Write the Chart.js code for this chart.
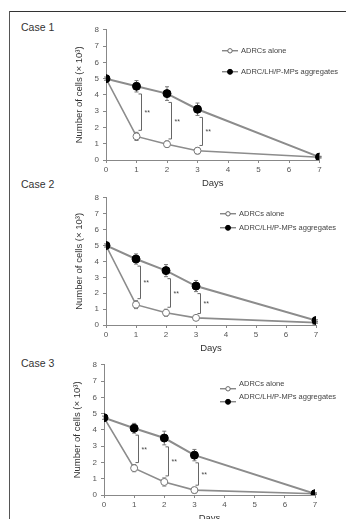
<!DOCTYPE html>
<html>
<head>
<meta charset="utf-8">
<script src="https://cdn.jsdelivr.net/npm/chart.js@4.4.1/dist/chart.umd.min.js"></script>
<style>
  html, body { margin:0; padding:0; background:#fff; width:346px; height:519px; overflow:hidden; }
  #frameTop { position:absolute; left:9px; top:11px; width:337px; height:1px; background:#333; }
  #frameLeft { position:absolute; left:9px; top:11px; width:1px; height:508px; background:#555; }
  .case { position:absolute; left:21px; font:10.5px "Liberation Sans", Arial, sans-serif; color:#333; }
  canvas { position:absolute; }
</style>
</head>
<body>
<div id="frameTop"></div>
<div id="frameLeft"></div>
<div class="case" style="top:21px">Case 1</div>
<div class="case" style="top:178px">Case 2</div>
<div class="case" style="top:357px">Case 3</div>
<canvas id="c1"></canvas>
<canvas id="c2"></canvas>
<canvas id="c3"></canvas>
<script>
// ---- data ----
const days = [0, 1, 2, 3, 7];
const yTicks = [0, 1, 2, 3, 4, 5, 6, 7, 8];
const xTicks = [0, 1, 2, 3, 4, 5, 6, 7];
const sigDays = [1, 2, 3];
const seriesNames = ["ADRCs alone", "ADRC/LH/P-MPs aggregates"];

const case1Alone    = [5.0, 1.45, 0.97, 0.57, 0.17];
const case1AloneErr = [0.0, 0.25, 0.20, 0.20, 0.04];
const case1Agg      = [5.0, 4.53, 4.08, 3.12, 0.18];
const case1AggErr   = [0.1, 0.35, 0.42, 0.38, 0.05];

const case2Alone    = [5.0, 1.28, 0.77, 0.45, 0.15];
const case2AloneErr = [0.0, 0.25, 0.22, 0.15, 0.04];
const case2Agg      = [5.0, 4.15, 3.42, 2.45, 0.28];
const case2AggErr   = [0.1, 0.32, 0.38, 0.35, 0.05];

const case3Alone    = [4.75, 1.65, 0.80, 0.30, 0.08];
const case3AloneErr = [0.0, 0.22, 0.25, 0.18, 0.04];
const case3Agg      = [4.75, 4.10, 3.50, 2.45, 0.08];
const case3AggErr   = [0.1, 0.30, 0.42, 0.35, 0.05];

// ---- layout per panel (pixel areas) ----
const panels = [
  { id:'c1', area:{l:106, r:319.5, t:29, b:160}, alone:case1Alone, aloneErr:case1AloneErr, agg:case1Agg, aggErr:case1AggErr,
    legend:{x:116, rows:[21, 42], textDy:0} },
  { id:'c2', area:{l:106, r:316, t:197, b:325}, alone:case2Alone, aloneErr:case2AloneErr, agg:case2Agg, aggErr:case2AggErr,
    legend:{x:114, rows:[16, 30], textDy:0} },
  { id:'c3', area:{l:104, r:315, t:364, b:495}, alone:case3Alone, aloneErr:case3AloneErr, agg:case3Agg, aggErr:case3AggErr,
    legend:{x:116, rows:[24, 37], textDy:-5} },
];

const FONT = '"Liberation Sans", Arial, sans-serif';
const YAXIS_W = 46, XAXIS_H = 32, PAD_T = 8;

const errorBarPlugin = {
  id: 'errorBars',
  beforeDatasetsDraw(chart, args, opts) {
    const ctx = chart.ctx, xs = chart.scales.x, ys = chart.scales.y;
    ctx.save();
    ctx.strokeStyle = '#777';
    ctx.lineWidth = 1;
    chart.data.datasets.forEach(ds => {
      ds.data.forEach((p, i) => {
        const e = ds.errors[i];
        if (!e) return;
        const x = xs.getPixelForValue(p.x);
        const y1 = ys.getPixelForValue(p.y + e), y2 = ys.getPixelForValue(p.y - e);
        ctx.beginPath();
        ctx.moveTo(x, y1); ctx.lineTo(x, y2);
        ctx.moveTo(x - 2, y1); ctx.lineTo(x + 2, y1);
        ctx.moveTo(x - 2, y2); ctx.lineTo(x + 2, y2);
        ctx.stroke();
      });
    });
    ctx.restore();
  }
};

const extrasPlugin = {
  id: 'extras',
  afterDraw(chart, args, opts) {
    const ctx = chart.ctx, xs = chart.scales.x, ys = chart.scales.y, ca = chart.chartArea;
    const agg = chart.data.datasets[0], alone = chart.data.datasets[1];
    ctx.save();
    // significance brackets
    ctx.strokeStyle = '#666';
    ctx.lineWidth = 1;
    ctx.fillStyle = '#444';
    ctx.font = '7px ' + FONT;
    ctx.textBaseline = 'middle';
    sigDays.forEach(d => {
      const i = days.indexOf(d);
      const x = Math.round(xs.getPixelForValue(d)) + 4.5;
      const yTop = ys.getPixelForValue(agg.data[i].y - agg.errors[i]) + 2;
      const yBot = ys.getPixelForValue(alone.data[i].y + alone.errors[i]) - 2;
      ctx.beginPath();
      ctx.moveTo(x - 3, yTop); ctx.lineTo(x, yTop); ctx.lineTo(x, yBot); ctx.lineTo(x - 3, yBot);
      ctx.stroke();
      ctx.textAlign = 'left';
      ctx.fillText('**', x + 3, (yTop + yBot) / 2 + 1);
    });
    // legend
    const lg = opts.legend;
    [agg, alone].reverse().forEach((ds, k) => {
      const y = ca.top + lg.rows[k];
      const x0 = ca.left + lg.x;
      ctx.strokeStyle = '#555';
      ctx.lineWidth = 1;
      ctx.beginPath(); ctx.moveTo(x0, y); ctx.lineTo(x0 + 16, y); ctx.stroke();
      ctx.beginPath();
      ctx.arc(x0 + 8, y, ds === agg ? 2.5 : 2.2, 0, Math.PI * 2);
      ctx.fillStyle = ds === agg ? '#000' : '#fff';
      ctx.fill();
      ctx.strokeStyle = ds === agg ? '#000' : '#666';
      ctx.stroke();
      ctx.fillStyle = '#444';
      ctx.textAlign = 'left';
      ctx.font = '7.5px ' + FONT;
      ctx.fillText(ds.label, x0 + 19, y + lg.textDy);
    });
    ctx.restore();
  }
};

panels.forEach(p => {
  const cv = document.getElementById(p.id);
  const left = p.area.l - YAXIS_W;
  const top = p.area.t - PAD_T;
  const width = 346 - left;
  const height = PAD_T + (p.area.b - p.area.t) + XAXIS_H;
  cv.style.left = left + 'px';
  cv.style.top = top + 'px';
  cv.width = width; cv.height = height;
  cv.style.width = width + 'px'; cv.style.height = height + 'px';

  new Chart(cv, {
    type: 'line',
    data: {
      datasets: [
        { label: seriesNames[1], data: days.map((d, i) => ({x:d, y:p.agg[i]})), errors: p.aggErr,
          borderColor:'#8c8c8c', borderWidth:2, pointBackgroundColor:'#000', pointBorderColor:'#000',
          pointRadius:4, pointBorderWidth:1, order:0, tension:0 },
        { label: seriesNames[0], data: days.map((d, i) => ({x:d, y:p.alone[i]})), errors: p.aloneErr,
          borderColor:'#8c8c8c', borderWidth:1.6, pointBackgroundColor:'#fff', pointBorderColor:'#777',
          pointRadius:3.5, pointBorderWidth:1, order:1, tension:0 },
      ]
    },
    options: {
      responsive:false, animation:false, devicePixelRatio:1,
      layout:{ padding:{ left:0, top:PAD_T, right:346 - p.area.r, bottom:0 } },
      plugins:{ legend:{display:false}, tooltip:{enabled:false}, extras:{ legend:p.legend } },
      scales:{
        x:{ type:'linear', min:0, max:7,
            afterBuildTicks: s => { s.ticks = xTicks.map(v => ({value:v})); },
            afterFit: s => { s.height = XAXIS_H; },
            grid:{ drawOnChartArea:false, tickLength:3, color:'#888' },
            border:{ color:'#888', width:1 },
            ticks:{ font:{ family:FONT, size:8 }, color:'#555', padding:2, maxRotation:0 },
            title:{ display:true, text:'Days', font:{ family:FONT, size:9.5 }, color:'#333', padding:{top:2, bottom:3} } },
        y:{ type:'linear', min:0, max:8,
            afterBuildTicks: s => { s.ticks = yTicks.map(v => ({value:v})); },
            afterFit: s => { s.width = YAXIS_W; },
            grid:{ drawOnChartArea:false, tickLength:3, color:'#888' },
            border:{ color:'#888', width:1 },
            ticks:{ font:{ family:FONT, size:8 }, color:'#555', padding:4 },
            title:{ display:true, text:'Number of cells (× 10³)', font:{ family:FONT, size:9.5 }, color:'#333', padding:{top:14, bottom:0} } }
      }
    },
    plugins:[errorBarPlugin, extrasPlugin]
  });
});
</script>
</body>
</html>
